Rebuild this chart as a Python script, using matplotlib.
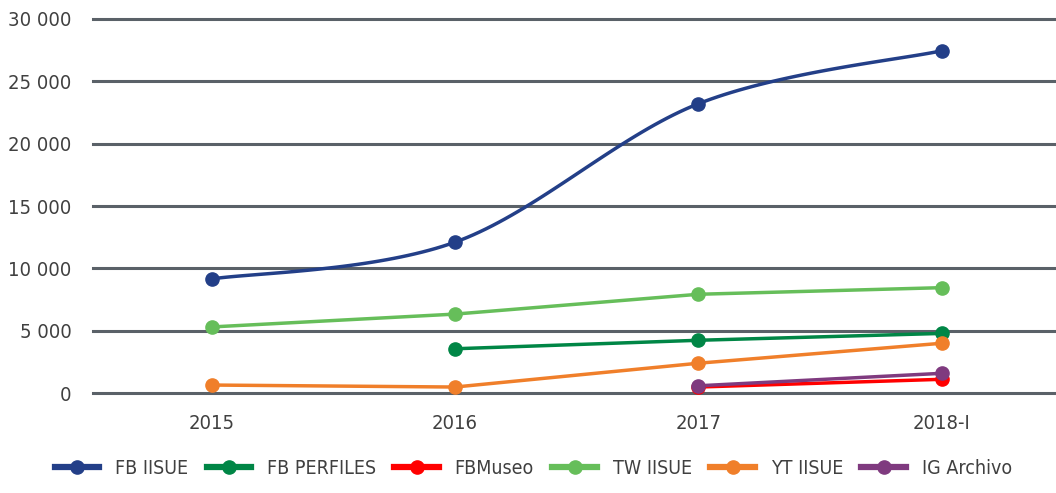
import numpy as np
import matplotlib
matplotlib.use('Agg')
import matplotlib.pyplot as plt
from matplotlib.lines import Line2D

plt.rcParams['font.family'] = ['Liberation Sans Narrow', 'DejaVu Sans']
plt.rcParams['font.stretch'] = 'condensed'

CATEGORIES = ['2015', '2016', '2017', '2018-I']

SERIES = ['FB IISUE', 'FB PERFILES', 'FBMuseo', 'TW IISUE', 'YT IISUE', 'IG Archivo']
COLORS = ['#233f88', '#008646', '#ff0000', '#66be5a', '#f07f2a', '#7f3a7f']

fb_iisue = [9150, 12100, 23200, 27450]
fb_perfiles = [None, 3550, 4230, 4780]
fb_museo = [None, None, 480, 1100]
tw_iisue = [5300, 6330, 7920, 8450]
yt_iisue = [640, 480, 2390, 3990]
ig_archivo = [None, None, 580, 1580]

VALUES = [fb_iisue, fb_perfiles, fb_museo, tw_iisue, yt_iisue, ig_archivo]
SMOOTH = [True, False, False, False, False, False]


def smooth_curve(xs, ys, n=40):
    # Catmull-Rom style smoothing like Excel's "smoothed line"
    xs = np.asarray(xs, float)
    ys = np.asarray(ys, float)
    px = np.concatenate([[xs[0]], xs, [xs[-1]]])
    py = np.concatenate([[ys[0]], ys, [ys[-1]]])
    outx, outy = [], []
    for i in range(1, len(px) - 2):
        p0, p1, p2, p3 = [np.array([px[j], py[j]]) for j in (i - 1, i, i + 1, i + 2)]
        c1 = p1 + (p2 - p0) / 6
        c2 = p2 - (p3 - p1) / 6
        t = np.linspace(0, 1, n)[:, None]
        b = ((1 - t) ** 3) * p1 + 3 * ((1 - t) ** 2) * t * c1 + 3 * (1 - t) * t ** 2 * c2 + t ** 3 * p2
        outx.extend(b[:, 0])
        outy.extend(b[:, 1])
    return outx, outy


fig = plt.figure(figsize=(10.56, 4.93), dpi=100)
ax = fig.add_axes([0.0876, 0.2028, 0.9124, 0.7587])

for y in range(0, 30001, 5000):
    ax.axhline(y, color='#5a6168', linewidth=2.2, zorder=1, clip_on=False)

for name, vals, col, sm in zip(SERIES, VALUES, COLORS, SMOOTH):
    xs = [i for i, v in enumerate(vals) if v is not None]
    ys = [v for v in vals if v is not None]
    if sm:
        cx, cy = smooth_curve(xs, ys)
        ax.plot(cx, cy, color=col, linewidth=2.5, zorder=3)
    else:
        ax.plot(xs, ys, color=col, linewidth=2.5, zorder=3)
    ax.plot(xs, ys, 'o', color=col, markersize=9.5, zorder=4, clip_on=False)

ax.set_xlim(-0.49, 3.47)
ax.set_ylim(0, 30000)
ax.set_xticks(range(len(CATEGORIES)))
ax.set_xticklabels(CATEGORIES)
ax.set_yticks(range(0, 30001, 5000))
ax.set_yticklabels([f"{v:,}".replace(',', ' ') for v in range(0, 30001, 5000)])
ax.tick_params(axis='both', length=0, labelsize=14.5, labelcolor='#404040')
ax.tick_params(axis='y', pad=15)
ax.tick_params(axis='x', pad=15)
for s in ax.spines.values():
    s.set_visible(False)

handles = [Line2D([0], [0], color=c, linewidth=4.5, marker='o', markersize=9.5) for c in COLORS]
fig.legend(handles, SERIES, loc='lower center', ncol=6, frameon=False,
           bbox_to_anchor=(0.505, -0.005), fontsize=14, handlelength=2.3,
           columnspacing=0.95, handletextpad=0.8, labelcolor='#404040')

fig.savefig('out.png', dpi=100)
